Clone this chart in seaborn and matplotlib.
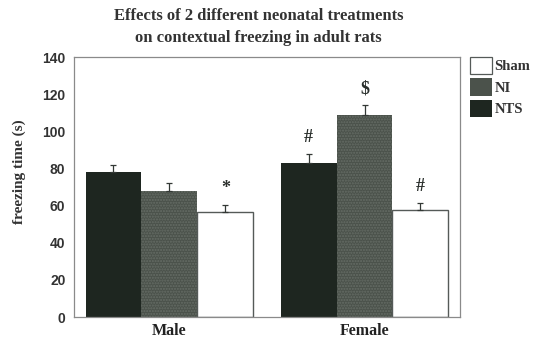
import matplotlib
matplotlib.use("Agg")
import matplotlib.pyplot as plt
import seaborn as sns
import pandas as pd
import numpy as np
from matplotlib.patches import Patch

groups = ["Male", "Female"]
treatments = ["NTS", "NI", "Sham"]
nts_mean = [78, 83]
ni_mean = [68, 109]
sham_mean = [56.5, 57.5]
nts_sem = [4, 5]
ni_sem = [4, 5]
sham_sem = [4, 4]
marks = {("Male", "Sham"): "*", ("Female", "NTS"): "#",
         ("Female", "NI"): r"\$", ("Female", "Sham"): "#"}
yticks = [0, 20, 40, 60, 80, 100, 120, 140]

df = pd.DataFrame({
    "sex": groups * 3,
    "treatment": [t for t in treatments for _ in groups],
    "freezing": nts_mean + ni_mean + sham_mean,
    "sem": nts_sem + ni_sem + sham_sem,
})

sns.set_style("white")
serif = ["Liberation Serif", "DejaVu Serif"]
sans = ["Liberation Sans", "DejaVu Sans"]

fig = plt.figure(figsize=(5.35, 3.38), dpi=100)
ax = fig.add_axes([0.138, 0.062, 0.722, 0.769])

palette = {"NTS": "#1e2620", "NI": "#4b524b", "Sham": "#ffffff"}
sns.barplot(data=df, x="sex", y="freezing", hue="treatment",
            order=groups, hue_order=treatments, palette=palette,
            errorbar=None, width=0.86, gap=0, ax=ax, legend=False,
            saturation=1, edgecolor="none", linewidth=0)

# speckled texture on the NI bars, outline on the Sham bars
patches = ax.patches
for p in patches:
    fc = matplotlib.colors.to_hex(p.get_facecolor())
    if fc == "#ffffff":
        p.set_edgecolor("#555a58")
        p.set_linewidth(1.0)
    elif fc == "#4b524b":
        p.set_hatch("......")
        p.set_edgecolor("#666d66")
        p.set_linewidth(0)

# one-sided error bars and significance marks
for i, t in enumerate(treatments):
    sub = df[df.treatment == t].set_index("sex").loc[groups]
    for j, g in enumerate(groups):
        bar = patches[i * len(groups) + j]
        xc = bar.get_x() + bar.get_width() / 2
        val = sub.loc[g, "freezing"]
        err = sub.loc[g, "sem"]
        ax.errorbar(xc, val, yerr=[[0], [err]], fmt="none",
                    ecolor="#333835", elinewidth=0.9, capsize=2.5,
                    capthick=0.9)
        if (g, t) in marks:
            ax.text(xc, val + err + 4, marks[(g, t)], ha="center",
                    va="bottom", fontsize=13, color="#2a2f2c",
                    family=serif, fontweight="bold")

ax.set_ylim(0, 140)
ax.set_xlim(-0.49, 1.49)
ax.set_yticks(yticks)
ax.set_yticklabels([str(v) for v in yticks], family=sans,
                   fontweight="bold", fontsize=10, color="#333")
ax.set_xticks([0.5])
ax.set_xticklabels([""])
ax.tick_params(axis="y", direction="in", length=3, color="#777", pad=6)
ax.tick_params(axis="x", direction="in", length=3, color="#777")
for j, g in enumerate(groups):
    ax.text(j, -3.0, g, ha="center", va="top", family=serif,
            fontweight="bold", fontsize=11.5, color="#222")
ax.set_xlabel("")
ax.set_ylabel("freezing time (s)", family=serif, fontweight="bold",
              fontsize=11, color="#333")
ax.yaxis.set_label_coords(-0.125, 0.56)
for s in ax.spines.values():
    s.set_color("#8a8a8a")
    s.set_linewidth(0.9)

fig.text(0.483, 0.975, "Effects of 2 different neonatal treatments\non contextual freezing in adult rats",
         ha="center", va="top", family=serif, fontweight="bold",
         fontsize=12, color="#333", linespacing=1.45)

# legend to the right of the axes, Sham listed first
handles = [Patch(facecolor="#ffffff", edgecolor="#555a58", linewidth=0.9),
           Patch(facecolor="#4b524b", edgecolor="none"),
           Patch(facecolor="#1e2620", edgecolor="none")]
leg = fig.legend(handles, ["Sham", "NI", "NTS"], loc="upper left",
                 bbox_to_anchor=(0.868, 0.85), frameon=False,
                 handlelength=1.5, handleheight=1.45, handletextpad=0.15,
                 labelspacing=0.3, borderaxespad=0,
                 prop={"family": serif, "weight": "bold", "size": 10.5})
for txt in leg.get_texts():
    txt.set_color("#333")

fig.savefig("out.png", dpi=100, facecolor="white")
